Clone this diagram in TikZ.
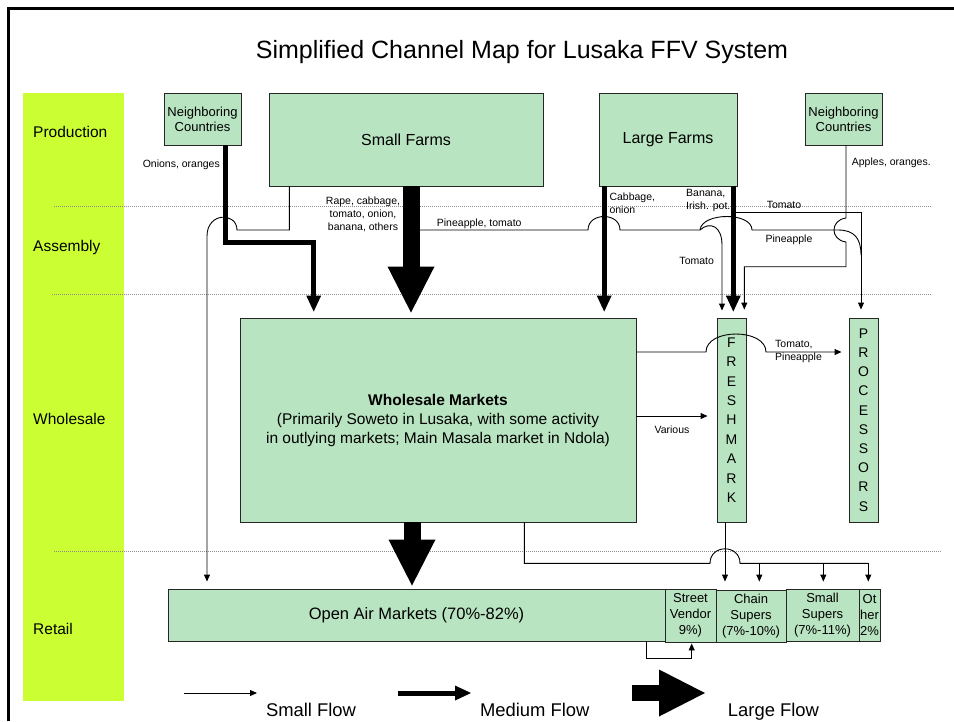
\documentclass[tikz,border=0pt]{standalone}
\usepackage{fontspec}
\setmainfont{Liberation Sans}
\usetikzlibrary{arrows.meta}

\definecolor{boxgreen}{RGB}{185,228,193}
\definecolor{stagelime}{RGB}{204,255,51}

\tikzset{
  farmbox/.style={draw=black!85, line width=0.9pt, fill=boxgreen, inner sep=0pt, align=center},
  stagelabel/.style={anchor=west, inner sep=0pt, font=\fontsize{15.5}{18}\selectfont},
  flowlabel/.style={inner sep=0pt, font=\fontsize{10.5}{13}\selectfont},
  legendlabel/.style={anchor=base, inner sep=0pt, font=\fontsize{18.4}{22}\selectfont},
  stageline/.style={black!45, line width=0.6pt, dash pattern=on 1pt off 1pt},
  plainflow/.style={line width=0.9pt},
  smallflow/.style={line width=0.9pt, -{Triangle[length=7pt,width=6pt]}},
  mediumflow/.style={line width=5pt, -{Triangle[length=16pt,width=15pt,line width=0pt]}},
  largeflow/.style={line width=17pt, -{Triangle[length=46pt,width=47pt,line width=0pt]}},
}

\begin{document}
\begin{tikzpicture}[x=1pt,y=-1pt]
\useasboundingbox (0,0) rectangle (954,721);

% Frame and stage column
\draw[line width=2.7pt] (8.7,721) -- (8.7,8.7) -- (954,8.7);
\fill[stagelime] (22.7,93.3) rectangle (124,700.7);
\node[stagelabel] (production) at (33,131.7) {Production};
\node[stagelabel] (assembly) at (33,247) {Assembly};
\node[stagelabel] (wholesalestage) at (33,419) {Wholesale};
\node[stagelabel] (retail) at (33,629.3) {Retail};

% Title
\node[anchor=base, font=\fontsize{25}{30}\selectfont] (title) at (522,58.3) {Simplified Channel Map for Lusaka FFV System};

% Stage separators
\draw[stageline] (54,206) -- (932,206);
\draw[stageline] (52,294.5) -- (932,294.5);
\draw[stageline] (54,551) -- (942,551);

% Production boxes
\node[farmbox, minimum width=77pt, minimum height=52pt, font=\fontsize{13}{15.3}\selectfont] (ncleft) at (202.5,119) {Neighboring\\Countries};
\node[farmbox, minimum width=274pt, minimum height=93pt, font=\fontsize{16}{19}\selectfont] (smallfarms) at (406,139.5) {Small Farms};
\node[farmbox, minimum width=138pt, minimum height=93pt, font=\fontsize{16}{19}\selectfont] (largefarms) at (668,139.5) {Large Farms};
\node[farmbox, minimum width=77pt, minimum height=52pt, font=\fontsize{13}{15.3}\selectfont] (ncright) at (843.5,119) {Neighboring\\Countries};

% Wholesale boxes
\node[farmbox, minimum width=396pt, minimum height=204pt, font=\fontsize{15.5}{19}\selectfont] (wholesale) at (438,420) {\textbf{Wholesale Markets}\\(Primarily Soweto in Lusaka, with some activity\\in outlying markets; Main Masala market in Ndola)};
\node[farmbox, minimum width=29pt, minimum height=204pt, font=\fontsize{14}{19.4}\selectfont] (freshmark) at (731.5,420) {F\\R\\E\\S\\H\\M\\A\\R\\K};
\node[farmbox, minimum width=29pt, minimum height=204pt, font=\fontsize{14}{19.2}\selectfont] (processors) at (863.5,420) {P\\R\\O\\C\\E\\S\\S\\O\\R\\S};

% Retail boxes
\node[farmbox, minimum width=497pt, minimum height=52pt, font=\fontsize{16.5}{19}\selectfont] (openair) at (416.5,615) {Open Air Markets (70\%-82\%)};
\node[farmbox, minimum width=51pt, minimum height=53pt, font=\fontsize{13}{15.8}\selectfont] (street) at (690.5,615.5) {Street\\Vendor\\9\%)};
\node[farmbox, minimum width=70pt, minimum height=52pt, font=\fontsize{13}{16.3}\selectfont] (chain) at (751,616) {Chain\\Supers\\(7\%-10\%)};
\node[farmbox, minimum width=73pt, minimum height=52pt, font=\fontsize{13}{16}\selectfont] (smallsup) at (822.5,615) {Small\\Supers\\(7\%-11\%)};
\node[farmbox, minimum width=21pt, minimum height=52pt, font=\fontsize{13}{15.8}\selectfont] (other) at (869.5,615) {Ot\\her\\2\%};

% Large and medium flows
\draw[mediumflow, shorten >=6pt] (ncleft.south -| 225,0) |- (313.7,242.5) -- (wholesale.north -| 313.7,0);
\draw[largeflow, shorten >=5pt] (smallfarms.south -| 411,0) -- (wholesale.north -| 411,0);
\draw[mediumflow, shorten >=6pt] (largefarms.south -| 604.2,0) -- (wholesale.north -| 604.2,0);
\draw[mediumflow, shorten >=6pt] (largefarms.south -| 733.3,0) -- (freshmark.north -| 733.3,0);
\draw[largeflow, shorten >=3pt] (wholesale.south -| 412,0) -- (openair.north -| 412,0);

% Small flows in assembly
\draw[smallflow, shorten >=7pt] (smallfarms.south -| 289.3,0) |- (237,230) .. controls (237,212) and (207,212) .. (207,236) -- (openair.north -| 207,0);
\coordinate (pinestart) at (419,230);
\coordinate (pinesplit) at (700,230);
\draw[plainflow] (pinestart) -- (588,230) .. controls (588,212) and (620,212) .. (620,230) -- (pinesplit);
\draw[smallflow, shorten >=7pt] (pinesplit) .. controls (710,221) and (722,226) .. (722,245) -- (freshmark.north -| 722,0);
\draw[plainflow] (pinesplit) .. controls (702,212) and (752,212) .. (752,230) -- (838,230) .. controls (854,230) and (861,238) .. (861,255);
\coordinate (tomstart) at (736,212.3);
\draw[smallflow, shorten >=8pt] (tomstart) -| (processors.north -| 861,0);
\draw[smallflow, shorten >=8pt] (ncright.south -| 846,0) -- (846,218) .. controls (830,220) and (830,240) .. (846,242) |- (744.3,266.7) -- (freshmark.north -| 744.3,0);

% Small flows in wholesale
\draw[smallflow, shorten >=7pt] (wholesale.east |- 0,352) -- (706,352) .. controls (706,328) and (766,328) .. (766,352) -- (processors.west |- 0,352);
\draw[smallflow, shorten >=9pt] (wholesale.east |- 0,416) -- (freshmark.west |- 0,416);

% Small flows in retail
\draw[plainflow] (wholesale.south -| 524.3,0) |- (710,563.3) .. controls (710,544) and (740,544) .. (740,563.3) -- (868.3,563.3);
\coordinate (dropa) at (759.3,563.3);
\coordinate (dropb) at (823.3,563.3);
\coordinate (dropc) at (868.3,563.3);
\draw[smallflow, shorten >=8pt] (freshmark.south -| 725,0) -- (chain.north -| 725,0);
\draw[smallflow, shorten >=8pt] (dropa) -- (chain.north -| dropa);
\draw[smallflow, shorten >=7pt] (dropb) -- (smallsup.north -| dropb);
\draw[smallflow, shorten >=7pt] (dropc) -- (other.north -| dropc);
\draw[smallflow, shorten >=1pt] (openair.south -| 646,0) |- (691.7,658.3) -- (street.south -| 691.7,0);

% Flow labels
\node[flowlabel, anchor=east] (onions) at (220,165) {Onions, oranges};
\node[flowlabel, align=center] (rape) at (363,214.5) {Rape, cabbage,\\tomato, onion,\\banana, others};
\node[flowlabel, anchor=west] (pinetomato) at (436.7,224) {Pineapple, tomato};
\node[flowlabel, anchor=west, align=left] (cabbage) at (609.3,203.3) {Cabbage,\\onion};
\node[flowlabel, anchor=west, align=left] (banana) at (686,200) {Banana,\\Irish. pot.};
\node[flowlabel, anchor=west] (apples) at (851.7,162.3) {Apples, oranges.};
\node[flowlabel] (tomatolow) at (696.7,261) {Tomato};
\node[flowlabel] (pineapple) at (789,239.5) {Pineapple};
\node[flowlabel] (tomatoup) at (784,205) {Tomato};
\node[flowlabel, anchor=west, align=left] (tomatopine) at (775,351) {Tomato,\\Pineapple};
\node[flowlabel] (various) at (672,430) {Various};

% Legend
\coordinate (smallfrom) at (184,693);
\coordinate (smallto) at (257,693);
\coordinate (mediumfrom) at (398,693);
\coordinate (mediumto) at (471,693);
\coordinate (largefrom) at (632,693);
\coordinate (largeto) at (705,693);
\draw[smallflow] (smallfrom) -- (smallto);
\draw[mediumflow] (mediumfrom) -- (mediumto);
\draw[largeflow, line width=16pt] (largefrom) -- (largeto);
\node[legendlabel] (smalllegend) at (311,716.5) {Small Flow};
\node[legendlabel] (mediumlegend) at (534.7,716) {Medium Flow};
\node[legendlabel] (largelegend) at (773.5,716) {Large Flow};

\end{tikzpicture}
\end{document}
